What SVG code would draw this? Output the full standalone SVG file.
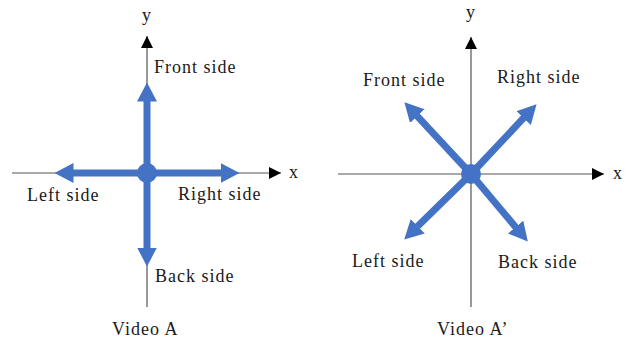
<svg xmlns="http://www.w3.org/2000/svg" width="630" height="345" viewBox="0 0 630 345">
<style>
.ax{stroke:#555;stroke-width:1.2;fill:none}
.bl{stroke:#4472C4;stroke-width:7;fill:none}
.t{font-family:"Liberation Serif","Times New Roman",serif;font-size:18px;letter-spacing:1px;fill:#1a1a1a}
</style>
<defs>
<marker id="ah" viewBox="0 0 12 12" markerWidth="12" markerHeight="12" refX="12" refY="6" orient="auto" markerUnits="userSpaceOnUse"><path d="M0,0 L12,6 L0,12 z" fill="#000"/></marker>
<marker id="bh" viewBox="0 0 19 20" markerWidth="19" markerHeight="20" refX="0.5" refY="10" orient="auto" markerUnits="userSpaceOnUse"><path d="M0,0 L19,10 L0,20 z" fill="#4472C4"/></marker>
</defs>
<rect width="630" height="345" fill="#fff"/>
<g id="connectors">
<line class="ax" x1="12" y1="173" x2="281" y2="173" marker-end="url(#ah)"/>
<line class="ax" x1="147" y1="307" x2="147" y2="36" marker-end="url(#ah)"/>
<line class="ax" x1="338" y1="174" x2="604" y2="174" marker-end="url(#ah)"/>
<line class="ax" x1="471" y1="307" x2="471" y2="37" marker-end="url(#ah)"/>
<line class="bl" x1="147" y1="173" x2="147" y2="101" marker-end="url(#bh)"/>
<line class="bl" x1="147" y1="173" x2="147" y2="248" marker-end="url(#bh)"/>
<line class="bl" x1="147" y1="173" x2="73" y2="173" marker-end="url(#bh)"/>
<line class="bl" x1="147" y1="173" x2="221" y2="173" marker-end="url(#bh)"/>
<line class="bl" x1="471" y1="174" x2="417" y2="115.8" marker-end="url(#bh)"/>
<line class="bl" x1="471" y1="174" x2="523.9" y2="117.7" marker-end="url(#bh)"/>
<line class="bl" x1="471" y1="174" x2="417.4" y2="226.6" marker-end="url(#bh)"/>
<line class="bl" x1="471" y1="174" x2="515.9" y2="227.4" marker-end="url(#bh)"/>
</g>
<g id="centerA"><circle cx="147" cy="173" r="10" fill="#4472C4"/></g>
<g id="centerB"><circle cx="471" cy="174" r="10" fill="#4472C4"/></g>
<g id="labelsA">
<text class="t" x="147" y="21" text-anchor="middle">y</text>
<text class="t" x="289" y="178">x</text>
<text class="t" x="154" y="73">Front side</text>
<text class="t" x="27" y="201">Left side</text>
<text class="t" x="178" y="200">Right side</text>
<text class="t" x="155" y="282">Back side</text>
<text class="t" x="112" y="335">Video A</text>
</g>
<g id="labelsB">
<text class="t" x="471" y="18" text-anchor="middle">y</text>
<text class="t" x="613" y="179">x</text>
<text class="t" x="363" y="86">Front side</text>
<text class="t" x="497" y="83">Right side</text>
<text class="t" x="352" y="267">Left side</text>
<text class="t" x="498" y="268">Back side</text>
<text class="t" x="437" y="335">Video A’</text>
</g>
</svg>
